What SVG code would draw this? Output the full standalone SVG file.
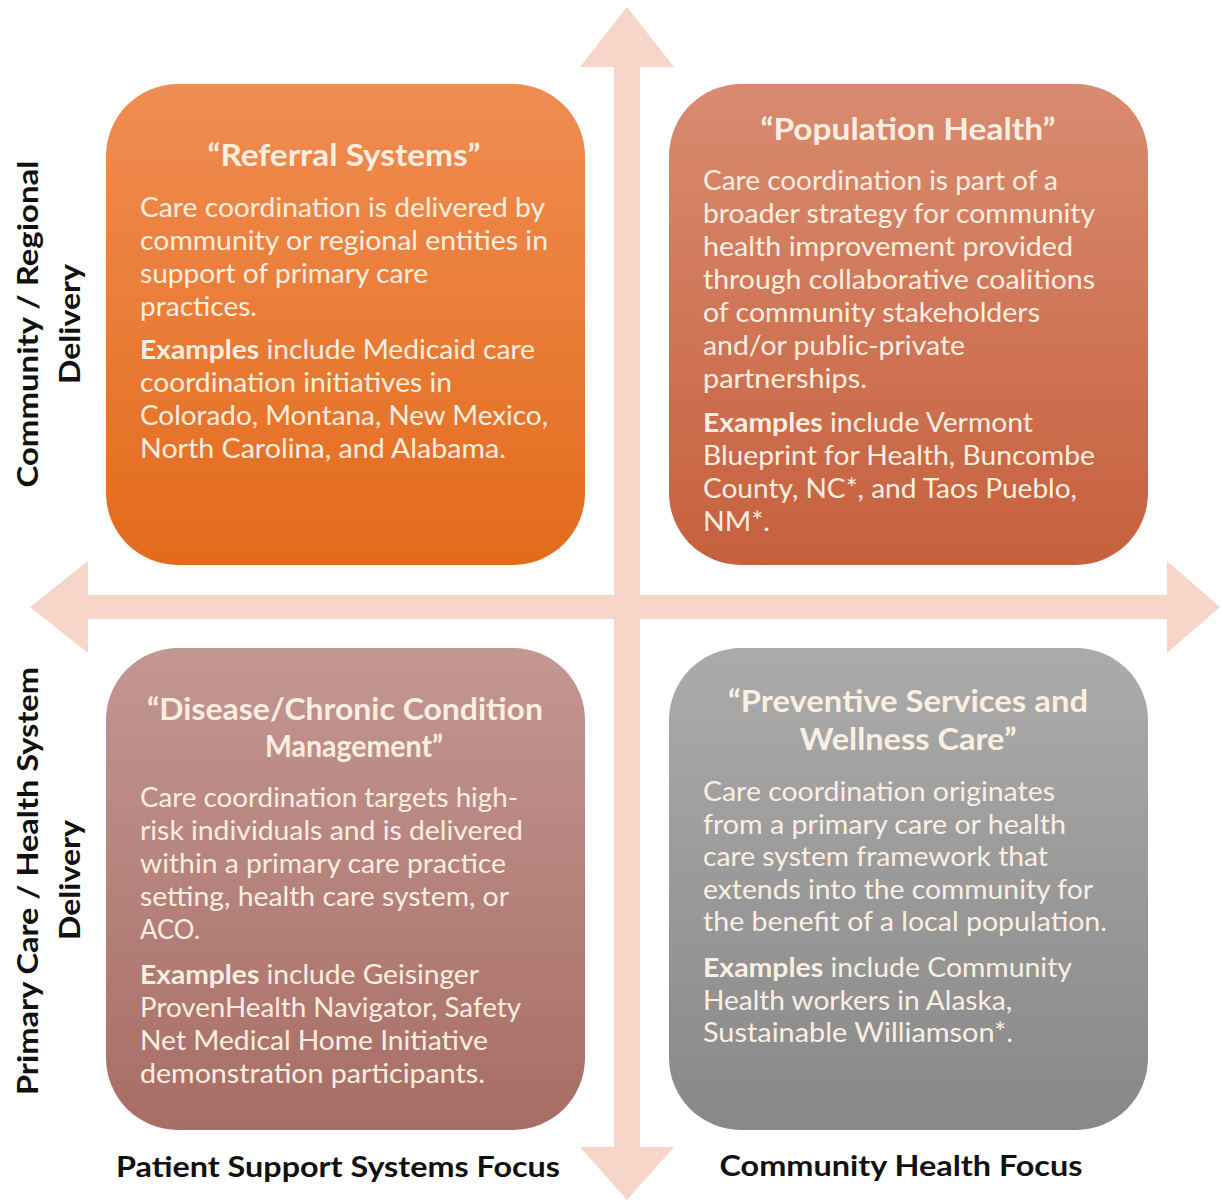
<svg xmlns="http://www.w3.org/2000/svg" width="1221" height="1204" viewBox="0 0 1221 1204">
<style>
.b{font-family:Lato,"Open Sans","Liberation Sans",sans-serif;font-size:26px;fill:#fcefe2}
.t{font-family:Lato,"Open Sans","Liberation Sans",sans-serif;font-size:30px;font-weight:bold;fill:#fcefe2;text-anchor:middle}
.e{font-weight:bold}
.l{font-family:Lato,"Open Sans","Liberation Sans",sans-serif;font-size:28px;font-weight:bold;fill:#111;text-anchor:middle}
.arr{fill:#f8d5c9}
</style>
<defs>
<linearGradient id="gTL" x1="0" y1="0" x2="0" y2="1"><stop offset="0" stop-color="#f08d52"/><stop offset="1" stop-color="#e36b1b"/></linearGradient>
<linearGradient id="gTR" x1="0" y1="0" x2="0" y2="1"><stop offset="0" stop-color="#d98b70"/><stop offset="1" stop-color="#c6603d"/></linearGradient>
<linearGradient id="gBL" x1="0" y1="0" x2="0" y2="1"><stop offset="0" stop-color="#c39792"/><stop offset="1" stop-color="#a86d65"/></linearGradient>
<linearGradient id="gBR" x1="0" y1="0" x2="0" y2="1"><stop offset="0" stop-color="#ababab"/><stop offset="1" stop-color="#888888"/></linearGradient>
</defs>
<rect width="1221" height="1204" fill="#ffffff"/>
<g id="connectors">
<polygon class="arr" points="627,7 674,67 640,67 640,1147 674,1147 627,1200 580,1147 614,1147 614,67 580,67"/>
<polygon class="arr" points="30,607 88,561 88,595 1167,595 1167,561 1220,607 1167,653 1167,619 88,619 88,653"/>
</g>
<g id="referral">
<rect x="106" y="84" width="479" height="481" rx="72" fill="url(#gTL)"/>
<text class="t" x="344" y="166" textLength="273" lengthAdjust="spacingAndGlyphs">“Referral Systems”</text>
<text class="b" x="140" y="217" textLength="405" lengthAdjust="spacingAndGlyphs">Care coordination is delivered by</text>
<text class="b" x="140" y="250" textLength="408" lengthAdjust="spacingAndGlyphs">community or regional entities in</text>
<text class="b" x="140" y="283" textLength="288" lengthAdjust="spacingAndGlyphs">support of primary care</text>
<text class="b" x="140" y="316" textLength="117" lengthAdjust="spacingAndGlyphs">practices.</text>
<text class="b" x="140" y="359" textLength="395" lengthAdjust="spacingAndGlyphs"><tspan class="e">Examples</tspan> include Medicaid care</text>
<text class="b" x="140" y="392" textLength="312" lengthAdjust="spacingAndGlyphs">coordination initiatives in</text>
<text class="b" x="140" y="425" textLength="408" lengthAdjust="spacingAndGlyphs">Colorado, Montana, New Mexico,</text>
<text class="b" x="140" y="458" textLength="366" lengthAdjust="spacingAndGlyphs">North Carolina, and Alabama.</text>
</g>
<g id="population">
<rect x="669" y="84" width="479" height="481" rx="72" fill="url(#gTR)"/>
<text class="t" x="908" y="140" textLength="295" lengthAdjust="spacingAndGlyphs">“Population  Health”</text>
<text class="b" x="703" y="190" textLength="355" lengthAdjust="spacingAndGlyphs">Care coordination is part of a</text>
<text class="b" x="703" y="223" textLength="392" lengthAdjust="spacingAndGlyphs">broader strategy for community</text>
<text class="b" x="703" y="256" textLength="370" lengthAdjust="spacingAndGlyphs">health improvement provided</text>
<text class="b" x="703" y="289" textLength="392" lengthAdjust="spacingAndGlyphs">through collaborative coalitions</text>
<text class="b" x="703" y="322" textLength="337" lengthAdjust="spacingAndGlyphs">of community stakeholders</text>
<text class="b" x="703" y="355" textLength="262" lengthAdjust="spacingAndGlyphs">and/or public-private</text>
<text class="b" x="703" y="388" textLength="164" lengthAdjust="spacingAndGlyphs">partnerships.</text>
<text class="b" x="703" y="432" textLength="330" lengthAdjust="spacingAndGlyphs"><tspan class="e">Examples</tspan> include Vermont</text>
<text class="b" x="703" y="465" textLength="392" lengthAdjust="spacingAndGlyphs">Blueprint for Health, Buncombe</text>
<text class="b" x="703" y="498" textLength="374" lengthAdjust="spacingAndGlyphs">County, NC*, and Taos Pueblo,</text>
<text class="b" x="703" y="531" textLength="67" lengthAdjust="spacingAndGlyphs">NM*.</text>
</g>
<g id="disease">
<rect x="106" y="648" width="479" height="482" rx="72" fill="url(#gBL)"/>
<text class="t" x="345" y="720" textLength="396" lengthAdjust="spacingAndGlyphs">“Disease/Chronic  Condition</text>
<text class="t" x="354" y="757" textLength="178" lengthAdjust="spacingAndGlyphs">Management”</text>
<text class="b" x="140" y="807" textLength="378" lengthAdjust="spacingAndGlyphs">Care coordination targets high-</text>
<text class="b" x="140" y="840" textLength="383" lengthAdjust="spacingAndGlyphs">risk individuals and is delivered</text>
<text class="b" x="140" y="873" textLength="366" lengthAdjust="spacingAndGlyphs">within a primary care practice</text>
<text class="b" x="140" y="906" textLength="369" lengthAdjust="spacingAndGlyphs">setting, health care system, or</text>
<text class="b" x="140" y="939" textLength="60" lengthAdjust="spacingAndGlyphs">ACO.</text>
<text class="b" x="140" y="984" textLength="339" lengthAdjust="spacingAndGlyphs"><tspan class="e">Examples</tspan> include Geisinger</text>
<text class="b" x="140" y="1017" textLength="381" lengthAdjust="spacingAndGlyphs">ProvenHealth Navigator, Safety</text>
<text class="b" x="140" y="1050" textLength="348" lengthAdjust="spacingAndGlyphs">Net Medical Home Initiative</text>
<text class="b" x="140" y="1083" textLength="345" lengthAdjust="spacingAndGlyphs">demonstration participants.</text>
</g>
<g id="preventive">
<rect x="669" y="648" width="479" height="482" rx="72" fill="url(#gBR)"/>
<text class="t" x="908" y="712" textLength="360" lengthAdjust="spacingAndGlyphs">“Preventive Services and</text>
<text class="t" x="908" y="750" textLength="217" lengthAdjust="spacingAndGlyphs">Wellness Care”</text>
<text class="b" x="703" y="801" textLength="352" lengthAdjust="spacingAndGlyphs">Care coordination originates</text>
<text class="b" x="703" y="834" textLength="363" lengthAdjust="spacingAndGlyphs">from a primary care or health</text>
<text class="b" x="703" y="866" textLength="345" lengthAdjust="spacingAndGlyphs">care system framework that</text>
<text class="b" x="703" y="899" textLength="390" lengthAdjust="spacingAndGlyphs">extends into the community for</text>
<text class="b" x="703" y="931" textLength="404" lengthAdjust="spacingAndGlyphs">the benefit of a local population.</text>
<text class="b" x="703" y="977" textLength="369" lengthAdjust="spacingAndGlyphs"><tspan class="e">Examples</tspan> include Community</text>
<text class="b" x="703" y="1010" textLength="309" lengthAdjust="spacingAndGlyphs">Health workers in Alaska,</text>
<text class="b" x="703" y="1042" textLength="310" lengthAdjust="spacingAndGlyphs">Sustainable Williamson*.</text>
</g>
<g id="axis-labels">
<text class="l" x="338" y="1177" textLength="444" lengthAdjust="spacingAndGlyphs">Patient Support Systems Focus</text>
<text class="l" x="901" y="1176" textLength="363" lengthAdjust="spacingAndGlyphs">Community Health Focus</text>
<text class="l" transform="translate(38,324) rotate(-90)" textLength="327" lengthAdjust="spacingAndGlyphs">Community / Regional</text>
<text class="l" transform="translate(80,324) rotate(-90)" textLength="120" lengthAdjust="spacingAndGlyphs">Delivery</text>
<text class="l" transform="translate(38,881) rotate(-90)" textLength="428" lengthAdjust="spacingAndGlyphs">Primary Care / Health System</text>
<text class="l" transform="translate(80,880) rotate(-90)" textLength="120" lengthAdjust="spacingAndGlyphs">Delivery</text>
</g>
</svg>
